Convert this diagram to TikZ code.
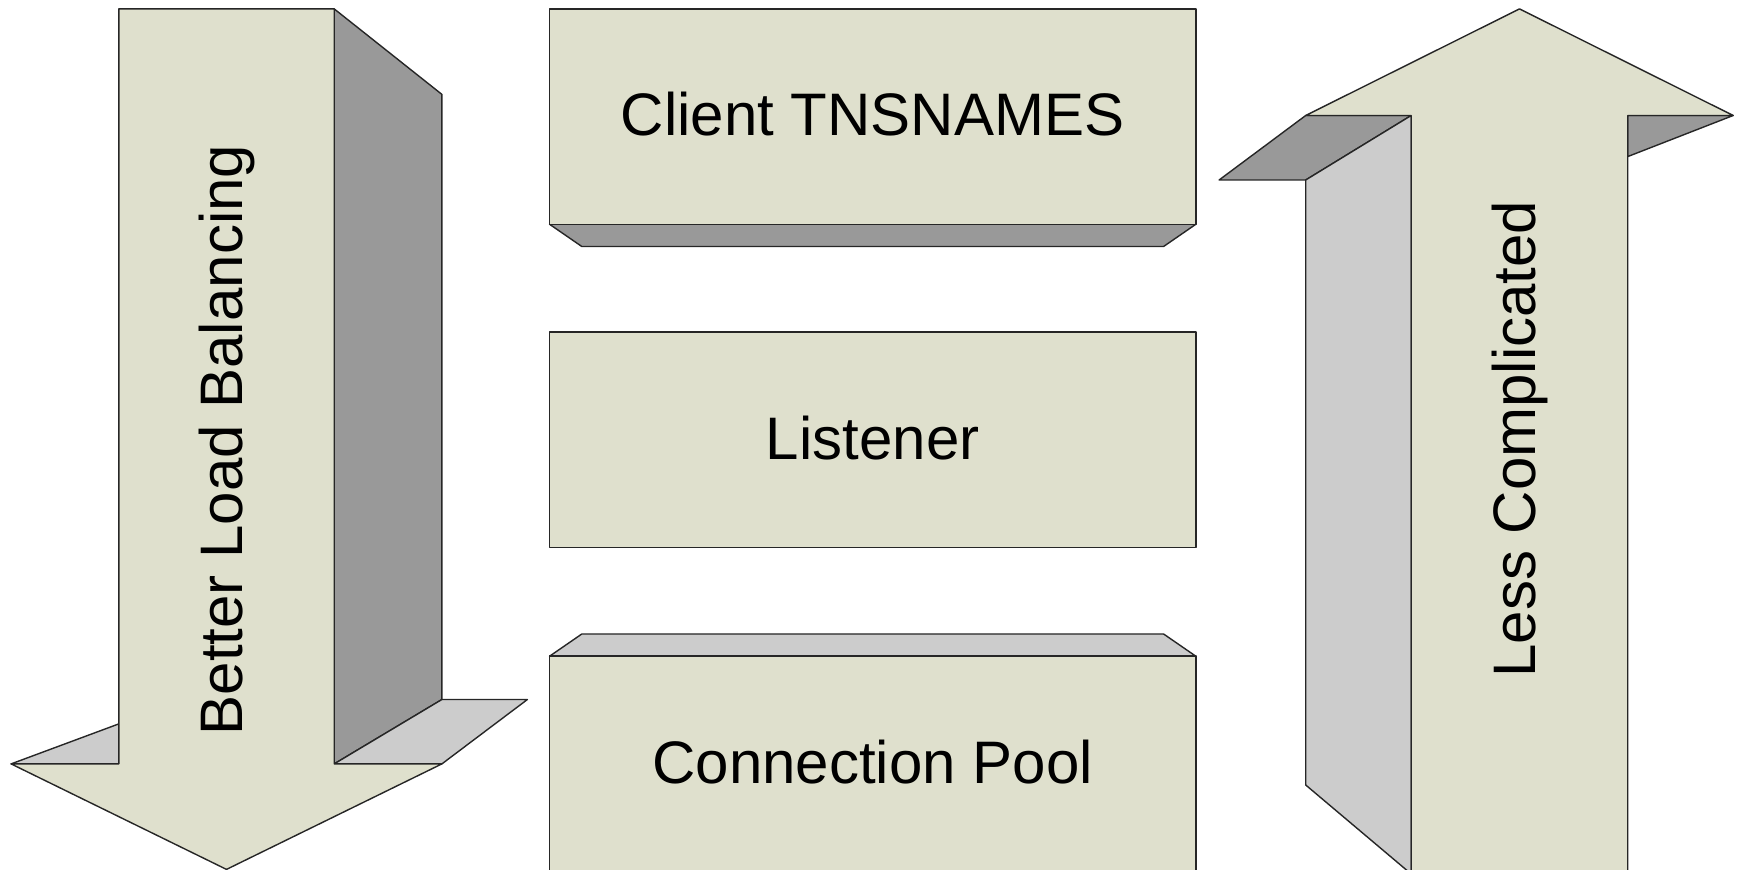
\documentclass[tikz,border=0pt]{standalone}
\usepackage{fontspec}
\setmainfont{Liberation Sans}
\definecolor{facecol}{HTML}{DFE0CD}
\definecolor{darkcol}{HTML}{999999}
\definecolor{lightcol}{HTML}{CCCCCC}
\tikzset{
  front/.style={fill=facecol,draw=black!85,line width=0.7pt,line join=round},
  darkface/.style={fill=darkcol,draw=black!85,line width=0.7pt,line join=round},
  lightface/.style={fill=lightcol,draw=black!85,line width=0.7pt,line join=round},
  label/.style={font=\fontsize{30}{36}\selectfont,text=black}
}
\begin{document}
\begin{tikzpicture}[x=0.5pt,y=-0.5pt]

\useasboundingbox (0,0) rectangle (1741,870);

%left arrow
\draw[darkface] (334.2,8.9) -- (441.9,94.4) -- (441.9,699.5) -- (334.2,763.9) -- cycle;
\draw[lightface] (334.2,763.9) -- (441.9,699.5) -- (527.4,699.5) -- (441.9,763.9) -- cycle;
\draw[lightface] (118.8,723.9) -- (11.1,763.9) -- (118.8,763.9) -- cycle;
\draw[front] (118.8,8.9) -- (334.2,8.9) -- (334.2,763.9) -- (441.9,763.9) -- (226.5,869.4)
  -- (11.1,763.9) -- (118.8,763.9) -- cycle;
\node[label,rotate=90] (balance) at (226.5,440) {Better Load Balancing};

%top box
\draw[darkface] (549.6,224.3) -- (1195.8,224.3) -- (1163.6,246.5) -- (581.8,246.5) -- cycle;
\draw[front] (549.6,8.9) rectangle (1195.8,224.3);
\node[label] (tns) at (872.7,114) {Client TNSNAMES};

%middle box
\draw[front] (549.6,332) rectangle (1195.8,547.4);
\node[label] (lsnr) at (872.7,438) {Listener};

%bottom box
\draw[lightface] (581.8,634) -- (1163.6,634) -- (1195.8,656.2) -- (549.6,656.2) -- cycle;
\draw[front] (549.6,656.2) rectangle (1195.8,874);
\node[label] (pool) at (872.7,762) {Connection Pool};

%right arrow
\draw[darkface] (1305.7,115.5) -- (1411.2,115.5) -- (1305.7,180) -- (1219.1,180) -- cycle;
\draw[lightface] (1305.7,180) -- (1411.2,115.5) -- (1411.2,874) -- (1305.7,785) -- cycle;
\draw[darkface] (1627.7,115.5) -- (1733.2,115.5) -- (1627.7,156.6) -- cycle;
\draw[front] (1411.2,874) -- (1411.2,115.5) -- (1305.7,115.5) -- (1519.5,8.9) -- (1733.2,115.5)
  -- (1627.7,115.5) -- (1627.7,874) -- cycle;
\node[label,rotate=90] (simple) at (1519.5,439) {Less Complicated};

\end{tikzpicture}
\end{document}
